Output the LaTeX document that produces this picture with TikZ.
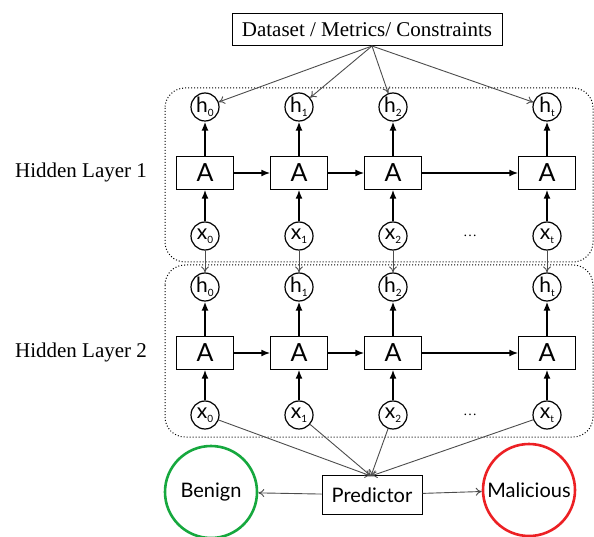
\documentclass[tikz,border=0pt]{standalone}
\usepackage{fontspec}
\setmainfont{Liberation Serif}
\setsansfont{Lato}
\usetikzlibrary{positioning,arrows.meta}

\definecolor{benigngreen}{RGB}{22,168,62}
\definecolor{maliciousred}{RGB}{236,32,36}
\newcommand{\idx}[1]{\raisebox{-0.35ex}{\fontsize{10}{10}\selectfont #1}}

\tikzset{
  cell/.style={draw, fill=white, minimum width=57pt, minimum height=33pt, inner sep=0pt,
    font=\sffamily\fontsize{25}{25}\selectfont},
  unit/.style={draw, circle, fill=white, minimum size=28pt, inner sep=0pt, line width=1.2pt,
    font=\sffamily\fontsize{21}{21}\selectfont},
  layerbox/.style={draw, dotted, line width=1pt, rounded corners=20pt},
  strong/.style={-{Latex[length=9pt,width=7pt]}, line width=1.6pt},
  thin/.style={-{To[length=6pt,width=8pt]}, gray!60!black, line width=0.9pt},
  label/.style={font=\fontsize{21}{24}\selectfont},
  outcome/.style={draw, circle, minimum size=92pt, line width=2.6pt, inner sep=0pt,
    font=\sffamily\fontsize{20}{20}\selectfont}
}

\begin{document}
\begin{tikzpicture}[x=1pt,y=-1pt]
  \useasboundingbox (0,0) rectangle (594,537);
  \clip (0,0) rectangle (594,537);

  % hidden layers
  \draw [layerbox] (165,88) rectangle (593,262);
  \draw [layerbox] (165,265) rectangle (593,437);
  \node [label] (lab1) at (81,172) {Hidden Layer 1};
  \node [label] (lab2) at (81,352) {Hidden Layer 2};

  \foreach \l/\yh/\ya/\yx in {1/107/173/236, 2/287/353/415} {
    \foreach \x/\i in {205/0,299/1,393/2,547/t} {
      \node [unit] (h\l\i) at (\x,\yh) {h\idx{\i}};
      \node [cell] (A\l\i) at (\x,\ya) {A};
      \node [unit] (x\l\i) at (\x,\yx) {x\idx{\i}};
      \draw [strong] (x\l\i) -- (A\l\i);
      \draw [strong] (A\l\i) -- (h\l\i);
    }
    \foreach \a/\b in {0/1,1/2,2/t}
      \draw [strong] (A\l\a) -- (A\l\b);
    \node (dots\l) at (470,\yx) {\fontsize{14}{14}\selectfont\dots};
  }

  % inputs and outputs
  \node [draw, line width=1pt, minimum width=270pt, minimum height=32pt,
    font=\fontsize{21}{24}\selectfont] (data) at (367,30) {Dataset / Metrics/ Constraints};
  \coordinate (fan) at (372,46);
  \node [draw, line width=1pt, minimum width=100pt, minimum height=39pt,
    font=\sffamily\fontsize{20}{20}\selectfont] (pred) at (372,495) {Predictor};
  \coordinate (join) at (371,476);
  \node [outcome, benigngreen, text=black] (benign) at (211,492) {Benign};
  \node [outcome, maliciousred, text=black] (mal) at (529,490) {Malicious};

  \foreach \i in {0,1,2,t} {
    \draw [thin] (fan) -- (h1\i);
    \draw [thin] (x1\i) -- (h2\i);
    \draw [thin] (x2\i) -- (join);
  }
  \draw [thin] (pred) -- (benign);
  \draw [thin] (pred) -- (mal);
\end{tikzpicture}
\end{document}
